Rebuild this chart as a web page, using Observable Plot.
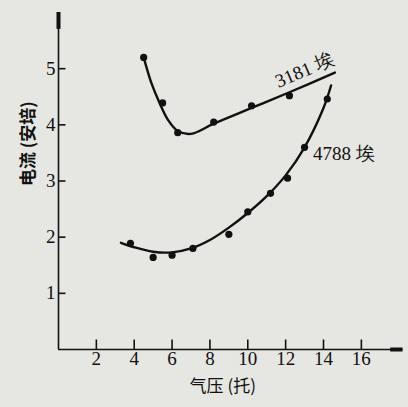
<!DOCTYPE html>
<html>
<head>
<meta charset="utf-8">
<script src="https://cdn.jsdelivr.net/npm/d3@7"></script>
<script src="https://cdn.jsdelivr.net/npm/@observablehq/plot@0.6"></script>
<style>
  html, body { margin: 0; padding: 0; background: #e6e6e2; }
  #chart svg { display: block; }
</style>
</head>
<body>
<div id="chart"></div>
<script>
// ---- data ----
// measured points, wavelength 3181 Å
const pts3181X = [4.5, 5.5, 6.3, 8.2, 10.2, 12.2];
const pts3181Y = [5.2, 4.39, 3.86, 4.05, 4.34, 4.52];
// fitted curve 3181 Å
const fit3181X = [4.5, 4.9, 5.3, 5.8, 6.3, 7.0, 8.2, 10.2, 12.2, 14.6];
const fit3181Y = [5.2, 4.75, 4.42, 4.08, 3.89, 3.84, 4.02, 4.3, 4.58, 4.93];
// measured points, wavelength 4788 Å
const pts4788X = [3.8, 5.0, 6.0, 7.1, 9.0, 10.0, 11.2, 12.1, 13.0, 14.2];
const pts4788Y = [1.89, 1.64, 1.68, 1.80, 2.05, 2.45, 2.78, 3.05, 3.6, 4.46];
// fitted curve 4788 Å
const fit4788X = [3.3, 4.0, 5.0, 6.0, 7.0, 8.0, 9.0, 10.0, 11.0, 12.0, 13.0, 14.0, 14.4];
const fit4788Y = [1.9, 1.82, 1.74, 1.73, 1.8, 1.95, 2.17, 2.43, 2.73, 3.1, 3.6, 4.3, 4.7];

const xTicks = [2, 4, 6, 8, 10, 12, 14, 16];
const yTicks = [1, 2, 3, 4, 5];
const xDomain = [0, 18.2];
const yDomain = [0, 6];
const labels = ["3181 埃", "4788 埃"];
const labelX = [13.0, 13.45];
const labelY = [4.97, 3.49];
const xTitle = "气压 (托)";
const yTitle = "电流 (安培)";

const toRows = (xs, ys) => xs.map((x, i) => ({x, y: ys[i]}));
const p3181 = toRows(pts3181X, pts3181Y);
const f3181 = toRows(fit3181X, fit3181Y);
const p4788 = toRows(pts4788X, pts4788Y);
const f4788 = toRows(fit4788X, fit4788Y);

const serif = "'Liberation Serif', 'DejaVu Serif', serif";
const cjk = "'Noto Sans CJK SC', sans-serif";
const ink = "#111";

const W = 408, H = 407, mL = 58, mR = 5.5, mT = 12, mB = 58;
// tick lengths in pixels, converted to data units of the axis they run along
const xPerPx = (xDomain[1] - xDomain[0]) / (W - mL - mR);
const yPerPx = (yDomain[1] - yDomain[0]) / (H - mT - mB);
const yTickLen = 7 * xPerPx;    // horizontal ticks on y axis
const xTickLen = 10 * yPerPx;   // vertical ticks on x axis

const chart = Plot.plot({
  width: W,
  height: H,
  marginLeft: mL,
  marginRight: mR,
  marginTop: mT,
  marginBottom: mB,
  style: {background: "#e6e6e2", fontFamily: serif, color: ink},
  x: {domain: xDomain, label: null},
  y: {domain: yDomain, label: null},
  marks: [
    // axis lines
    Plot.ruleY([yDomain[0]], {x1: xDomain[0], x2: xDomain[1], stroke: ink, strokeWidth: 1.6}),
    Plot.ruleX([xDomain[0]], {y1: yDomain[0], y2: yDomain[1], stroke: ink, strokeWidth: 1.6}),
    // thick arrow ends
    Plot.ruleY([yDomain[0]], {x1: xDomain[1] - 0.65, x2: xDomain[1], stroke: ink, strokeWidth: 4}),
    Plot.ruleX([xDomain[0]], {y1: yDomain[1] - 0.3, y2: yDomain[1], stroke: ink, strokeWidth: 4}),
    // ticks (inward)
    Plot.link(xTicks, {x1: d => d, x2: d => d, y1: () => yDomain[0], y2: () => yDomain[0] + xTickLen, stroke: ink, strokeWidth: 1.6}),
    Plot.link(yTicks, {y1: d => d, y2: d => d, x1: () => xDomain[0], x2: () => xDomain[0] + yTickLen, stroke: ink, strokeWidth: 1.6}),
    Plot.axisX(xTicks, {tickSize: 0, tickPadding: 2, fontSize: 19, fill: ink, tickFormat: d => String(d), label: null}),
    Plot.axisY(yTicks, {tickSize: 0, tickPadding: 3, fontSize: 19, fill: ink, tickFormat: d => String(d), label: null}),
    // curves
    Plot.line(f3181, {x: "x", y: "y", curve: "catmull-rom", stroke: ink, strokeWidth: 2.4}),
    Plot.line(f4788, {x: "x", y: "y", curve: "catmull-rom", stroke: ink, strokeWidth: 2.4}),
    Plot.dot(p3181, {x: "x", y: "y", r: 3.6, fill: ink}),
    Plot.dot(p4788, {x: "x", y: "y", r: 3.6, fill: ink}),
    // curve labels
    Plot.text([labels[0]], {x: () => labelX[0], y: () => labelY[0], text: d => d, rotate: -23, fontSize: 19, fill: ink, fontFamily: serif}),
    Plot.text([labels[1]], {x: () => labelX[1], y: () => labelY[1], text: d => d, textAnchor: "start", fontSize: 19, fill: ink, fontFamily: serif}),
    // axis titles
    Plot.text([xTitle], {frameAnchor: "bottom", dx: -8, dy: 42, text: d => d, fontSize: 17, fill: ink, fontFamily: cjk}),
    Plot.text([yTitle], {frameAnchor: "left", dx: -30, dy: 5, rotate: -90, text: d => d, fontSize: 17, fill: ink, fontFamily: cjk, fontWeight: "bold"})
  ]
});
document.getElementById("chart").appendChild(chart);
</script>
</body>
</html>
